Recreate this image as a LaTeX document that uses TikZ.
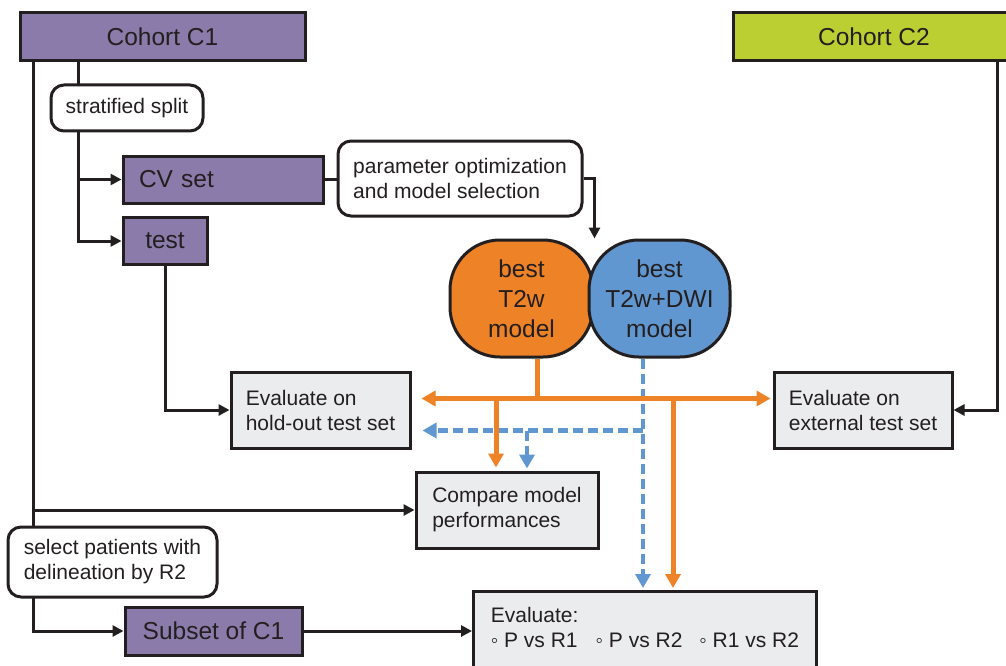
\documentclass[tikz,border=0pt]{standalone}
\usepackage{fontspec}
\setmainfont{Liberation Sans}
\usetikzlibrary{arrows.meta}
\definecolor{ink}{RGB}{35,31,32}
\definecolor{cpurple}{RGB}{139,123,170}
\definecolor{cgreen}{RGB}{187,206,50}
\definecolor{corange}{RGB}{238,130,38}
\definecolor{cblue}{RGB}{97,151,208}
\definecolor{cgray}{RGB}{235,236,238}
\newcommand{\bigfont}{\fontsize{24.5}{30}\selectfont}
\newcommand{\smallfont}{\fontsize{21}{25}\selectfont}
\begin{document}
\begin{tikzpicture}[x=1pt,y=-1pt,
  every node/.style={text=ink},
  basebox/.style={draw=ink, line width=3pt, inner sep=0pt},
  purplebox/.style={basebox, fill=cpurple, font=\bigfont},
  greenbox/.style={basebox, fill=cgreen, font=\bigfont},
  labelbox/.style={basebox, fill=white, rounded corners=13pt, font=\smallfont, align=left},
  graybox/.style={basebox, fill=cgray, font=\smallfont, align=left},
  blob/.style={basebox, rounded corners=50pt, font=\bigfont, align=center, minimum width=#1, minimum height=117pt},
  blk/.style={draw=ink, line width=3pt},
  blkarr/.style={blk, -{Triangle[length=11pt,width=11pt]}},
  oline/.style={draw=corange, line width=5pt},
  oarr/.style={oline, -{Triangle[length=14pt,width=15pt]}},
  barr/.style={draw=cblue, line width=4.5pt, dash pattern=on 10pt off 5pt, -{Triangle[length=14pt,width=15pt]}}
]
\useasboundingbox (0,0) rectangle (1006,666);

% boxes
\node[purplebox, minimum width=285pt, minimum height=48pt] (c1) at (162.5,37) {Cohort C1};
\node[greenbox, minimum width=282pt, minimum height=48pt] (c2) at (874,37) {Cohort C2};
\node[purplebox, minimum width=200pt, minimum height=47pt, text width=168pt, inner xsep=16pt, align=left] (cv) at (223,179.5) {CV set};
\node[purplebox, minimum width=84pt, minimum height=47pt] (test) at (165,241) {test};
\node[purplebox, minimum width=177pt, minimum height=48pt] (subset) at (213.5,631) {Subset of C1};
\node[labelbox, minimum width=244pt, minimum height=75pt] (param) at (460,178.5) {parameter optimization\\and model selection};
\node[blob=143pt, fill=corange] (t2w) at (521.5,298.5) {best\\T2w\\model};
\node[blob=141pt, fill=cblue] (dwi) at (659.5,298.5) {best\\T2w+DWI\\model};
\node[graybox, minimum width=179pt, minimum height=76pt] (holdout) at (320.5,410) {Evaluate on\\hold-out test set};
\node[graybox, minimum width=178pt, minimum height=76pt] (external) at (863,410) {Evaluate on\\external test set};
\node[graybox, minimum width=182pt, minimum height=76pt] (compare) at (507,510) {Compare model\\performances};
\node[graybox, anchor=north west, minimum width=343pt, minimum height=92pt] (evalb) at (472,590)
  {Evaluate:\\\mbox{◦ P vs R1\hspace{18pt}◦ P vs R2\hspace{17pt}◦ R1 vs R2}\rule[-20pt]{0pt}{0pt}};

% black connectors
\coordinate (L1) at ([xshift=15pt]c1.south west);
\coordinate (L2) at ([xshift=60pt]c1.south west);
\coordinate (R2) at ([xshift=-19pt]c2.south east);
\draw[blkarr] (L1) |- (subset.west);
\draw[blkarr] (L1 |- compare.west) -- (compare.west);
\draw[blkarr] (L2) |- (cv.west);
\draw[blkarr] (L2) |- (test.west);
\draw[blk] (cv.east) -- (cv.east -| param.west);
\draw[blkarr] (param.east) -| (t2w.north east);
\draw[blkarr] (test.south) |- (holdout.west);
\draw[blkarr] (R2) |- (external.east);
\draw[blkarr] (subset.east) -- (subset.east -| evalb.west);

% label boxes over the lines
\node[labelbox, minimum width=152pt, minimum height=46pt] (split) at (127,108) {stratified split};
\node[labelbox, minimum width=209pt, minimum height=70pt] (select) at (112.5,562) {select patients with\\delineation by R2};

% blue dashed connectors
\coordinate (bt) at ([xshift=-16.5pt]dwi.south);
\coordinate (bj) at ([yshift=-72pt]bt);
\coordinate (bc) at ([xshift=20pt]compare.north);
\draw[barr, shorten >=2pt] (bt) -- (bt |- evalb.north);
\draw[barr, shorten >=11pt] (bj) -- (holdout.east |- bj);
\draw[barr, shorten >=2pt] (bc |- bj) -- (bc);

% orange connectors
\coordinate (ot) at ([xshift=16pt]t2w.south);
\coordinate (oj) at ([yshift=-40pt]ot);
\coordinate (oc) at ([xshift=-11pt]compare.north);
\coordinate (oe) at ([xshift=201pt]evalb.north west);
\draw[oline] (ot) -- (oj);
\draw[oline, {Triangle[length=14pt,width=15pt]}-{Triangle[length=14pt,width=15pt]}, shorten <=10pt, shorten >=2pt] (holdout.east |- oj) -- (external.west |- oj);
\draw[oarr, shorten >=3pt] (oc |- oj) -- (oc);
\draw[oarr, shorten >=2pt] (oe |- oj) -- (oe);
\end{tikzpicture}
\end{document}
